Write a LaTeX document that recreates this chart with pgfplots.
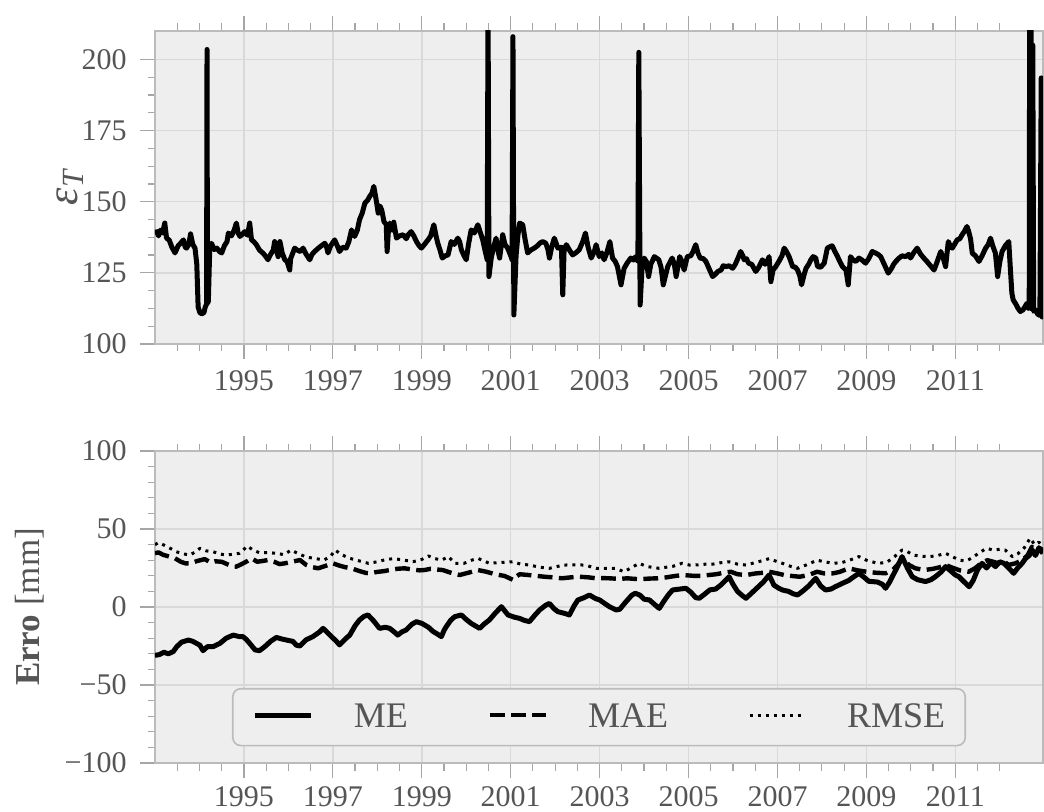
\documentclass[border=0pt]{standalone}
\usepackage{fontspec}
\setmainfont{Liberation Serif}
\usepackage{pgfplots}
\pgfplotsset{compat=1.18}

\definecolor{bgcol}{HTML}{EEEEEE}
\definecolor{gridcol}{HTML}{D9D9D9}
\definecolor{framecol}{HTML}{BBBBBB}
\definecolor{tickcol}{HTML}{A6A6A6}
\definecolor{labelcol}{HTML}{555555}

\pgfplotsset{
  panel/.style={
    width=444pt, scale only axis,
    xmin=1993, xmax=2012.97,
    axis background/.style={fill=bgcol},
    axis line style={draw=framecol, line width=0.8pt},
    xtick={1995,1997,...,2011},
    xticklabels={1995,1997,1999,2001,2003,2005,2007,2009,2011},
    minor xtick={1993.5,1994,...,2012},
    xtick pos=both, ytick pos=left,
    tick align=outside,
    major tick length=7.5pt, minor tick length=3.75pt,
    tick style={draw=tickcol, line width=0.6pt},
    grid=major,
    major grid style={draw=gridcol, line width=0.7pt},
    tick label style={font=\fontsize{15}{18}\selectfont, text=labelcol},
    xticklabel style={anchor=north, inner sep=0pt, yshift=-5.5pt},
    yticklabel style={anchor=east, inner sep=0pt, xshift=-6.5pt},
    ylabel style={font=\fontsize{17.5}{21}\selectfont, text=labelcol, anchor=center},
  },
}

\begin{document}
\begin{tikzpicture}
\useasboundingbox (-77.5pt,15.5pt) rectangle (444.5pt,-390.5pt);

% upper panel: epsilon_T series
\begin{axis}[panel,
  at={(0pt,0pt)}, anchor=north west,
  height=156.5pt,
  ymin=100, ymax=210,
  ytick={100,125,150,175,200},
  yticklabels={100,125,150,175,200},
  minor ytick={106.25,112.5,118.75,131.25,137.5,143.75,156.25,162.5,168.75,181.25,187.5,193.75},
  ylabel={\fontsize{22}{24}\selectfont\itshape ε\textsubscript{T}},
  ylabel style={at={(axis description cs:-0.0957,0.5)}},
]
\addplot[black, line width=2.5pt, line join=round] coordinates {
(1993.00,139) (1993.04,139.5) (1993.08,138) (1993.12,140) (1993.17,139)
(1993.22,142.5) (1993.26,137.2) (1993.32,136.5) (1993.38,134) (1993.45,132)
(1993.52,134.5) (1993.58,135.5) (1993.64,136.6) (1993.68,134) (1993.71,133.7)
(1993.76,135) (1993.80,138.7) (1993.85,135) (1993.90,133.7) (1993.94,128)
(1993.97,113) (1994.01,111) (1994.05,110.6) (1994.10,111) (1994.13,113)
(1994.16,114) (1994.17,203.5) (1994.18,114.3) (1994.20,115) (1994.23,133)
(1994.27,135.4) (1994.33,133.2) (1994.39,133.7) (1994.45,132.5) (1994.50,132)
(1994.56,134.5) (1994.62,136) (1994.65,139) (1994.72,138) (1994.78,140)
(1994.83,142.5) (1994.87,139) (1994.91,137.8) (1994.96,138.5) (1995.02,139.5)
(1995.08,138.2) (1995.13,142.5) (1995.17,136.6) (1995.22,136) (1995.28,134.9)
(1995.35,133) (1995.43,131.9) (1995.48,131) (1995.54,129.6) (1995.60,131.5)
(1995.66,133) (1995.69,136) (1995.73,133) (1995.77,130.7) (1995.81,136)
(1995.86,132) (1995.92,129.6) (1995.97,129) (1996.03,126) (1996.05,130)
(1996.10,132) (1996.14,133.7) (1996.20,133) (1996.27,132.5) (1996.33,133.7)
(1996.40,131.5) (1996.48,129.6) (1996.53,131.5) (1996.59,132.5) (1996.66,133.5)
(1996.74,134.5) (1996.82,135.4) (1996.86,134) (1996.89,132) (1996.95,134.5)
(1997.04,136.6) (1997.10,134.5) (1997.15,132.5) (1997.22,134) (1997.30,133.7)
(1997.36,136) (1997.42,140.1) (1997.49,137.8) (1997.55,140) (1997.60,143.7)
(1997.66,146) (1997.72,149.5) (1997.78,150.5) (1997.83,151.9) (1997.88,153)
(1997.92,155.4) (1997.97,151) (1998.02,146) (1998.06,148.5) (1998.10,147)
(1998.15,143) (1998.20,142) (1998.22,132.5) (1998.25,140) (1998.28,142.5)
(1998.33,140) (1998.37,142.8) (1998.43,137.2) (1998.50,138) (1998.58,138.4)
(1998.65,137) (1998.70,138.5) (1998.76,139.5) (1998.82,138) (1998.88,136)
(1998.94,134.5) (1998.99,133.7) (1999.06,135) (1999.14,136.6) (1999.20,138)
(1999.27,141.9) (1999.32,138) (1999.36,135.4) (1999.41,133) (1999.46,130.2)
(1999.53,131) (1999.59,131.3) (1999.66,136) (1999.73,135) (1999.81,137.2)
(1999.85,136) (1999.89,133.1) (1999.95,131) (2000.00,129.6) (2000.05,135)
(2000.11,140.1) (2000.18,139) (2000.26,141.9) (2000.31,139.5) (2000.37,136.6)
(2000.42,133) (2000.47,129.6) (2000.49,220) (2000.51,123.7) (2000.56,130)
(2000.60,133.1) (2000.67,137.2) (2000.71,133) (2000.75,130.2) (2000.82,138.4)
(2000.87,135) (2000.93,133.7) (2001.00,131) (2001.03,129.6) (2001.05,208)
(2001.07,110.2) (2001.12,131) (2001.16,138) (2001.20,142.5) (2001.27,141.9)
(2001.32,137) (2001.38,132) (2001.45,133) (2001.53,133.7) (2001.60,134.5)
(2001.66,135.5) (2001.72,136) (2001.79,135.4) (2001.84,133) (2001.87,130.2)
(2001.92,134) (2001.98,137.2) (2002.06,133.7) (2002.14,134) (2002.17,117.3)
(2002.20,133) (2002.25,134.9) (2002.32,133) (2002.39,131.3) (2002.46,132)
(2002.54,133.1) (2002.62,136) (2002.68,139) (2002.74,134) (2002.81,130.2)
(2002.88,132.5) (2002.92,134.9) (2002.99,130.7) (2003.05,132) (2003.10,129.6)
(2003.16,132) (2003.23,136) (2003.26,133) (2003.29,130.2) (2003.35,129)
(2003.40,127.2) (2003.48,120.8) (2003.55,126.6) (2003.62,128.5) (2003.70,130.2)
(2003.76,129.5) (2003.81,130.7) (2003.86,129) (2003.88,202.5) (2003.91,113.7)
(2003.95,126) (2004.00,130.2) (2004.05,129) (2004.10,123.7) (2004.15,128)
(2004.23,130.7) (2004.33,129.6) (2004.38,127) (2004.43,120.8) (2004.48,124)
(2004.53,127.2) (2004.63,130.2) (2004.68,128) (2004.72,123.7) (2004.80,130.7)
(2004.85,129) (2004.90,126) (2004.97,130.7) (2005.05,131) (2005.10,132.5)
(2005.16,134.9) (2005.21,132) (2005.26,130.2) (2005.33,130) (2005.39,129)
(2005.46,126.5) (2005.54,123.7) (2005.60,124.5) (2005.66,125.5) (2005.73,126)
(2005.78,127.5) (2005.84,127.2) (2005.91,127.5) (2005.99,126.6) (2006.05,128)
(2006.12,130.5) (2006.17,132.5) (2006.22,131) (2006.25,129.6) (2006.30,130)
(2006.35,128.4) (2006.42,128) (2006.51,125.5) (2006.58,127) (2006.66,129.6)
(2006.72,128) (2006.78,129.5) (2006.81,130.7) (2006.85,121.9) (2006.90,126)
(2006.96,127.2) (2007.03,129) (2007.10,131) (2007.15,133.7) (2007.20,132.5)
(2007.26,130.7) (2007.34,127.2) (2007.40,127) (2007.45,126) (2007.50,124)
(2007.54,120.8) (2007.60,124.5) (2007.64,126.6) (2007.70,128) (2007.75,129.6)
(2007.80,130.7) (2007.86,130.2) (2007.90,127.2) (2007.97,127) (2008.05,128.4)
(2008.12,133.7) (2008.18,134.2) (2008.23,134.5) (2008.29,132.5) (2008.35,130.7)
(2008.40,129) (2008.46,127.2) (2008.54,126) (2008.59,120.8) (2008.64,130.7)
(2008.70,129.5) (2008.76,129) (2008.83,130.2) (2008.90,129.5) (2008.98,128.4)
(2009.05,130) (2009.13,132.5) (2009.20,132) (2009.26,131.5) (2009.32,130.7)
(2009.40,128) (2009.49,124.9) (2009.56,126.5) (2009.61,128) (2009.66,129)
(2009.72,130) (2009.80,131) (2009.88,130.7) (2009.95,131.5) (2009.99,130.2)
(2010.06,132) (2010.14,133.7) (2010.22,131.5) (2010.29,130.2) (2010.36,129)
(2010.44,127.5) (2010.52,126) (2010.58,128.5) (2010.67,132.5) (2010.72,130.5)
(2010.78,127.2) (2010.84,136) (2010.90,134) (2010.93,133.7) (2010.98,135)
(2011.04,136.6) (2011.10,137) (2011.15,138.4) (2011.20,139.5) (2011.26,141.3)
(2011.30,139.5) (2011.34,137) (2011.38,131.9) (2011.45,131) (2011.53,129)
(2011.60,131) (2011.68,133.7) (2011.74,135) (2011.79,137.2) (2011.84,134.5)
(2011.90,131.9) (2011.95,123.7) (2012.00,129) (2012.05,132.5) (2012.12,134.5)
(2012.20,136) (2012.23,128) (2012.27,117.8) (2012.30,115.5) (2012.36,114)
(2012.41,112.5) (2012.46,111.4) (2012.52,112) (2012.56,113) (2012.61,114.3)
(2012.64,112.5) (2012.66,113) (2012.67,225) (2012.69,112.5) (2012.70,225)
(2012.72,113) (2012.74,205) (2012.76,111.5) (2012.80,112) (2012.85,110.5)
(2012.90,110) (2012.93,193.5) (2012.95,109.5) (2012.97,109.5)
};
\end{axis}

% lower panel: error statistics
\begin{axis}[panel,
  at={(0pt,-210pt)}, anchor=north west,
  height=156pt,
  ymin=-100, ymax=100,
  ytick={-100,-50,0,50,100},
  yticklabels={−100,−50,0,50,100},
  minor ytick={-90,-80,-70,-60,-40,-30,-20,-10,10,20,30,40,60,70,80,90},
  xticklabel style={yshift=1.5pt},
  ylabel={\textbf{Erro} [mm]},
  ylabel style={at={(axis description cs:-0.1408,0.5)}},
  legend columns=3,
  legend cell align=left,
  legend image code/.code={\draw[#1] (0pt,1pt) -- (28pt,1pt);},
  legend style={at={(0.5,0.147)}, anchor=center,
    draw=framecol, line width=0.8pt, fill=bgcol, rounded corners=4pt,
    font=\fontsize{18}{21}\selectfont, text=labelcol,
    inner xsep=10pt, inner ysep=7.5pt,
    nodes={inner sep=0pt},
    /tikz/every odd column/.append style={column sep=20pt},
    /tikz/every even column/.append style={column sep=40pt}},
]
\addplot[black, line width=2.5pt, line join=round] coordinates {
(1993.00,-31) (1993.10,-30.5) (1993.20,-29) (1993.30,-30) (1993.41,-28.6)
(1993.49,-25.4) (1993.60,-22.5) (1993.75,-21.2) (1993.85,-22) (1994.01,-24.5)
(1994.08,-28) (1994.18,-25.4) (1994.31,-25.4) (1994.46,-23.3) (1994.60,-20)
(1994.76,-18) (1994.90,-19) (1994.98,-19) (1995.06,-21) (1995.15,-24)
(1995.25,-27.5) (1995.35,-28) (1995.47,-25.4) (1995.60,-22) (1995.73,-19.5)
(1995.85,-20.5) (1995.96,-21.2) (1996.10,-22) (1996.18,-24.5) (1996.26,-25)
(1996.40,-21) (1996.55,-19) (1996.70,-16) (1996.78,-13.7) (1996.90,-17)
(1996.97,-19) (1997.08,-22) (1997.15,-24.3) (1997.28,-20.5) (1997.38,-18)
(1997.50,-12) (1997.60,-8.3) (1997.70,-6) (1997.79,-5.1) (1997.92,-9)
(1998.05,-13.7) (1998.18,-13) (1998.28,-13.7) (1998.38,-16) (1998.46,-18)
(1998.55,-16) (1998.65,-14.7) (1998.78,-11) (1998.88,-9.4) (1999.00,-10.5)
(1999.06,-11.5) (1999.15,-13) (1999.25,-15.6) (1999.36,-17.5) (1999.44,-19)
(1999.50,-15) (1999.55,-12.6) (1999.65,-8.5) (1999.74,-6.2) (1999.89,-5.1)
(2000.00,-8) (2000.11,-10.5) (2000.20,-12) (2000.30,-13.7) (2000.40,-11)
(2000.52,-8.3) (2000.65,-4) (2000.79,0.2) (2000.94,-5.1) (2001.08,-6.5)
(2001.20,-7.3) (2001.30,-8.5) (2001.42,-9.4) (2001.55,-5) (2001.65,-1.9)
(2001.78,1) (2001.87,2.3) (2001.97,-1) (2002.06,-3) (2002.20,-4)
(2002.32,-5.1) (2002.42,0.5) (2002.51,4.5) (2002.65,6) (2002.77,7.7)
(2002.90,5.5) (2003.00,4.5) (2003.10,2.5) (2003.22,0.2) (2003.37,-1.9)
(2003.45,-1.5) (2003.58,3) (2003.72,7.5) (2003.80,8.8) (2003.90,7.7)
(2004.00,5) (2004.12,4.5) (2004.22,2) (2004.34,-0.9) (2004.45,4)
(2004.55,8) (2004.64,10.9) (2004.80,11.5) (2004.94,12) (2005.05,9.5)
(2005.16,6) (2005.24,5.6) (2005.35,8) (2005.48,11) (2005.61,11.5)
(2005.72,14) (2005.84,17.3) (2005.91,19.4) (2006.00,14.5) (2006.10,10)
(2006.20,7.5) (2006.29,5.6) (2006.40,8.5) (2006.55,12.5) (2006.68,16)
(2006.81,20.5) (2006.92,14) (2007.03,12) (2007.11,10.9) (2007.25,10)
(2007.35,8.5) (2007.45,7.7) (2007.58,10.5) (2007.70,13.5) (2007.86,18.4)
(2007.97,13.5) (2008.08,10.9) (2008.20,11.5) (2008.30,13) (2008.46,15.2)
(2008.60,17) (2008.72,19.5) (2008.83,21.6) (2008.95,19) (2009.05,16.5)
(2009.13,16.3) (2009.25,16) (2009.36,14.5) (2009.43,12) (2009.52,16)
(2009.58,19.4) (2009.70,26) (2009.80,32.3) (2009.92,25) (2010.03,19.4)
(2010.15,17.5) (2010.33,16.3) (2010.45,17.5) (2010.55,19.4) (2010.68,22.5)
(2010.78,25.9) (2010.90,23) (2011.00,20.5) (2011.08,19.4) (2011.20,16)
(2011.31,13) (2011.40,17) (2011.50,24) (2011.60,28) (2011.70,25)
(2011.80,28.5) (2011.90,25.9) (2012.00,29) (2012.09,28) (2012.20,25)
(2012.31,21.6) (2012.40,25) (2012.50,28) (2012.58,31.2) (2012.66,33)
(2012.73,36.5) (2012.80,33) (2012.88,38) (2012.97,34.4)
};
\addlegendentry{ME}
\addplot[black, line width=2.2pt, line join=round, dash pattern=on 7.4pt off 3.2pt] coordinates {
(1993.00,34.5) (1993.08,35) (1993.18,33.5) (1993.30,32.5) (1993.45,31.2)
(1993.58,29) (1993.68,28) (1993.80,28) (1993.95,29.5) (1994.12,30.7)
(1994.25,28.5) (1994.35,29.3) (1994.50,29) (1994.62,27.5) (1994.75,26)
(1994.83,25.9) (1994.95,27.5) (1995.08,29.5) (1995.17,31.2) (1995.30,29)
(1995.42,29.5) (1995.54,30.1) (1995.68,29) (1995.80,27.5) (1995.92,28)
(1996.08,29) (1996.26,30.1) (1996.40,27) (1996.55,25.5) (1996.67,24.8)
(1996.85,26.5) (1997.00,28) (1997.15,26.5) (1997.28,25.5) (1997.42,24.8)
(1997.60,23) (1997.75,21.8) (1997.83,21.6) (1998.00,22.5) (1998.15,23)
(1998.28,23.7) (1998.45,24.5) (1998.61,24.8) (1998.80,24) (1998.95,23.5)
(1999.06,23.7) (1999.20,24.5) (1999.35,24) (1999.47,23.7) (1999.65,22)
(1999.85,20.5) (2000.05,22) (2000.26,23.7) (2000.45,22.6) (2000.65,21)
(2000.86,19.9) (2001.06,17.3) (2001.10,19) (2001.20,21) (2001.40,20.5)
(2001.55,20) (2001.76,19.4) (2001.95,19) (2002.15,18.4) (2002.35,19)
(2002.55,19.4) (2002.75,19) (2002.92,18.4) (2003.10,18.5) (2003.22,18.4)
(2003.45,18) (2003.62,18.4) (2003.80,18) (2003.92,17.8) (2004.10,18.2)
(2004.30,18.4) (2004.50,19) (2004.70,19.9) (2004.88,20.5) (2005.10,20)
(2005.28,20) (2005.45,20.5) (2005.62,21) (2005.80,22) (2005.95,22.6)
(2006.10,21) (2006.30,20.5) (2006.50,21.5) (2006.70,22) (2006.81,22.6)
(2007.00,21.5) (2007.15,20.5) (2007.35,19.8) (2007.50,19.4) (2007.70,20.5)
(2007.89,22.6) (2008.05,21.5) (2008.25,21.6) (2008.40,22.5) (2008.60,24.8)
(2008.80,23.5) (2009.00,22.6) (2009.20,22) (2009.43,21.6) (2009.60,24)
(2009.73,28) (2009.83,31) (2009.95,27) (2010.10,24.8) (2010.30,23.7)
(2010.50,24.5) (2010.65,25.5) (2010.78,26.9) (2010.95,25) (2011.10,23.5)
(2011.30,22.6) (2011.45,25) (2011.60,28.5) (2011.72,30) (2011.85,29)
(2011.97,28) (2012.10,29) (2012.20,27) (2012.35,28) (2012.50,30)
(2012.62,33) (2012.72,38.6) (2012.80,36) (2012.90,37.5) (2012.97,36.5)
};
\addlegendentry{MAE}
\addplot[black, line width=1.5pt, line join=round, dash pattern=on 1.5pt off 2.5pt] coordinates {
(1993.00,40) (1993.08,41.2) (1993.20,39.7) (1993.35,37.5) (1993.48,35.4)
(1993.65,34) (1993.78,33.3) (1993.92,35.5) (1994.01,37.6) (1994.15,36)
(1994.31,35.4) (1994.45,34) (1994.60,33.3) (1994.75,33.8) (1994.90,34.4)
(1995.08,39.1) (1995.20,36.5) (1995.35,34.8) (1995.55,34.8) (1995.75,34.4)
(1995.90,33.5) (1996.06,36.5) (1996.20,34.5) (1996.40,32) (1996.58,31.2)
(1996.80,30.1) (1996.95,32.5) (1997.05,36.5) (1997.20,33.5) (1997.38,31.2)
(1997.60,29.5) (1997.80,28) (1998.00,29) (1998.15,30.1) (1998.35,31)
(1998.60,30.1) (1998.80,29) (1999.00,30.5) (1999.15,32.7) (1999.30,31)
(1999.45,30.1) (1999.60,32.3) (1999.75,28) (1999.95,28) (2000.12,30)
(2000.26,31.2) (2000.40,29.5) (2000.52,28) (2000.75,28.5) (2001.04,29)
(2001.22,27.5) (2001.42,26.9) (2001.65,25.5) (2001.87,24.8) (2002.05,26)
(2002.20,26.9) (2002.40,27) (2002.67,26.9) (2002.92,24.8) (2003.10,24.8)
(2003.35,24.8) (2003.55,22.6) (2003.70,25) (2003.89,28) (2004.05,26)
(2004.34,24.8) (2004.50,25.5) (2004.64,26) (2004.85,28) (2005.02,26.9)
(2005.20,27) (2005.40,27.5) (2005.55,27.5) (2005.75,28.5) (2005.91,29)
(2006.10,27.5) (2006.29,26.9) (2006.50,28.5) (2006.70,30) (2006.81,31)
(2007.00,29) (2007.11,28) (2007.30,26) (2007.45,24.8) (2007.65,27)
(2007.89,30) (2008.05,29) (2008.25,28) (2008.45,28.5) (2008.62,30)
(2008.83,32.3) (2009.00,30) (2009.25,28) (2009.45,28.5) (2009.62,32)
(2009.80,36.5) (2009.92,35.5) (2010.05,33.3) (2010.25,32.5) (2010.43,32.3)
(2010.60,33) (2010.78,34.4) (2010.95,32) (2011.10,30) (2011.25,29.5)
(2011.40,32) (2011.55,35) (2011.70,37.6) (2011.85,36.5) (2012.00,37)
(2012.12,36.5) (2012.28,32.3) (2012.40,34) (2012.55,38) (2012.68,44.1)
(2012.78,40) (2012.88,41.5) (2012.97,38.6)
};
\addlegendentry{RMSE}
\end{axis}
\end{tikzpicture}
\end{document}
